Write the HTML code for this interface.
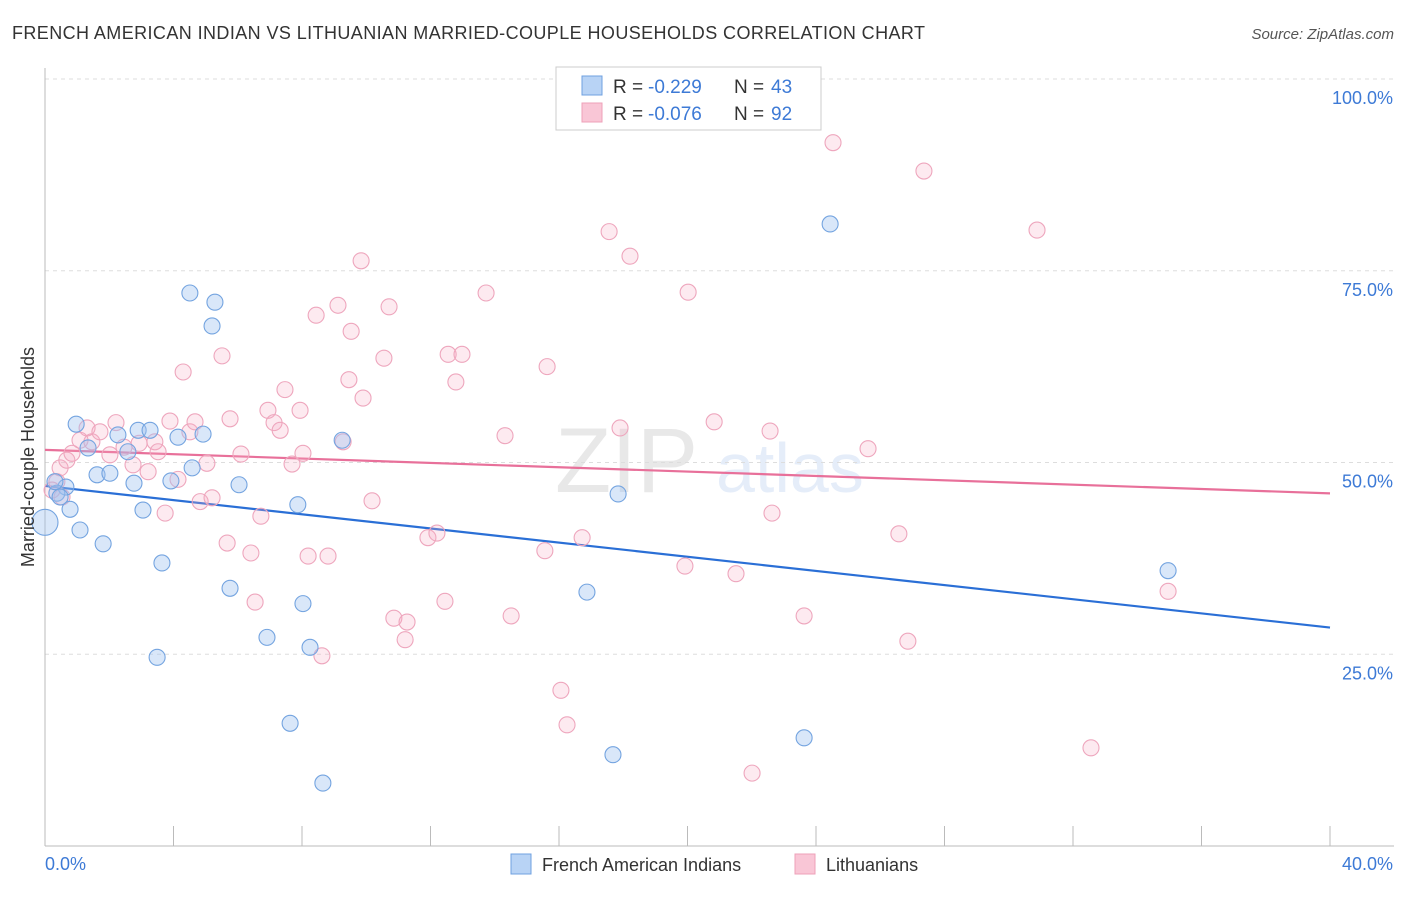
<!DOCTYPE html>
<html><head><meta charset="utf-8"><style>
body{margin:0;background:#fff;font-family:"Liberation Sans",sans-serif;}
svg text{font-family:"Liberation Sans",sans-serif;}
</style></head><body>
<svg id="chart" width="1406" height="892" xmlns="http://www.w3.org/2000/svg">
<text x="12" y="39" font-size="18" fill="#333" textLength="913" lengthAdjust="spacing">FRENCH AMERICAN INDIAN VS LITHUANIAN MARRIED-COUPLE HOUSEHOLDS CORRELATION CHART</text>
<text x="1394" y="39" font-size="15" fill="#555" text-anchor="end" font-style="italic">Source: ZipAtlas.com</text>
<g opacity="0.13"><text x="555" y="492" font-size="92" font-family="Liberation Serif" fill="#555">ZIP</text><text x="716" y="492" font-size="70" fill="#3d7ad6">atlas</text></g>
<g id="grid"></g>
<g id="axes"></g>
<g id="lines"></g>
<g id="pts"></g>
<text transform="translate(34,457) rotate(-90)" font-size="18" fill="#333" text-anchor="middle">Married-couple Households</text>
<g>
<rect x="556" y="67" width="265" height="63" fill="#fff" stroke="#ccc"/>
<rect x="582" y="76" width="20" height="19" fill="#b8d3f5" stroke="#6fa0e0"/>
<rect x="582" y="103" width="20" height="19" fill="#f9c6d6" stroke="#eea0b8"/>
<text x="613" y="93" font-size="19" fill="#333">R =</text><text x="648" y="93" font-size="19" fill="#3d7ad6">-0.229</text>
<text x="734" y="93" font-size="19" fill="#333">N =</text><text x="771" y="93" font-size="19" fill="#3d7ad6">43</text>
<text x="613" y="120" font-size="19" fill="#333">R =</text><text x="648" y="120" font-size="19" fill="#3d7ad6">-0.076</text>
<text x="734" y="120" font-size="19" fill="#333">N =</text><text x="771" y="120" font-size="19" fill="#3d7ad6">92</text>
</g>
<g>
<rect x="511" y="854" width="20" height="20" fill="#b8d3f5" stroke="#6fa0e0"/>
<text x="542" y="871" font-size="18" fill="#333">French American Indians</text>
<rect x="795" y="854" width="20" height="20" fill="#f9c6d6" stroke="#eea0b8"/>
<text x="826" y="871" font-size="18" fill="#333">Lithuanians</text>
</g>
</svg>
<script>
const blueX=[0.97,1.34,1.62,2.02,0.65,0.37,0.78,1.09,1.81,2.27,2.58,2.90,3.27,2.77,3.05,3.64,3.49,4.14,3.92,4.51,4.58,4.92,5.20,5.29,6.04,5.76,6.91,7.63,7.87,8.03,8.25,8.65,9.25,17.84,16.87,17.68,23.63,24.44,34.96,0.0,0.31,0.47];
const blueY=[55.0,51.9,48.4,48.6,46.8,46.0,43.9,41.2,39.4,53.6,51.4,54.2,54.2,47.3,43.8,36.9,24.6,53.3,47.6,72.1,49.3,53.7,67.8,70.9,47.1,33.6,27.2,16.0,44.5,31.6,25.9,8.2,52.9,45.9,33.1,11.9,14.1,81.1,35.9,42.2,47.5,45.5];
const pinkX=[0.37,0.47,0.68,0.84,1.09,1.31,1.46,1.71,2.02,2.21,2.46,2.74,2.93,3.21,3.42,3.52,3.74,3.89,4.14,4.30,4.51,4.67,4.83,5.04,5.20,5.51,5.76,5.67,6.10,6.41,6.54,6.72,6.94,7.13,7.32,7.47,7.69,7.94,8.03,8.19,8.44,8.62,8.81,9.12,9.28,9.46,9.53,9.84,9.90,10.18,10.55,10.71,10.86,11.21,11.27,11.92,12.20,12.45,12.55,12.79,12.98,13.73,14.32,14.51,15.56,15.63,16.06,16.25,16.72,17.56,17.90,18.21,19.92,20.02,20.83,21.51,22.01,22.57,22.63,23.63,24.53,25.62,26.58,26.86,27.36,30.88,32.56,34.96,0.53,0.22];
const pinkY=[47.5,49.3,50.3,51.2,52.9,54.5,52.7,54.0,51.0,55.2,52.0,49.7,52.5,48.8,52.7,51.4,43.4,55.4,47.8,61.8,54.0,55.3,44.9,49.9,45.4,63.9,55.7,39.5,51.1,38.2,31.8,43.0,56.8,55.2,54.2,59.5,49.8,56.8,51.2,37.8,69.2,24.8,37.8,70.5,52.7,60.8,67.1,76.3,58.4,45.0,63.6,70.3,29.7,26.9,29.2,40.2,40.8,31.9,64.1,60.5,64.1,72.1,53.5,30.0,38.5,62.5,20.3,15.8,40.2,80.1,54.5,76.9,36.5,72.2,55.3,35.5,9.5,54.1,43.4,30.0,91.7,51.8,40.7,26.7,88.0,80.3,12.8,33.2,45.5,46.4];
const yTicks=[25,50,75,100];
const yTickLabels=["25.0%","50.0%","75.0%","100.0%"];
const xTickLabels=["0.0%","40.0%"];

const NS="http://www.w3.org/2000/svg";
const X0=45,X1=1330,Y0=846,Y100=79;
const sx=v=>X0+(X1-X0)*v/40;
const sy=v=>Y0-(Y0-Y100)*v/100;
function mk(tag,attrs,parent){const e=document.createElementNS(NS,tag);for(const k in attrs)e.setAttribute(k,attrs[k]);parent.appendChild(e);return e;}
const grid=document.getElementById('grid'),axes=document.getElementById('axes');
yTicks.forEach((t,i)=>{
  const l=mk('line',{x1:X0,x2:1394,y1:sy(t),y2:sy(t),stroke:'#ddd','stroke-dasharray':'4,4'},grid);
  
  
  const tx=mk('text',{x:1393,y:sy(t)+25,'font-size':18,fill:'#3d7ad6','text-anchor':'end'},axes);
  tx.textContent=yTickLabels[i];
  
  
});
const ax=mk('line',{x1:X0,x2:X0,y1:68,y2:Y0,stroke:'#bbb'},axes);


const bx=mk('line',{x1:X0,x2:1394,y1:Y0,y2:Y0,stroke:'#bbb'},axes);


for(let i=0;i<=10;i++){
  const t=mk('line',{x1:sx(i*4),x2:sx(i*4),y1:826,y2:Y0,stroke:'#bbb'},axes);
  
  
}
const xl0=mk('text',{x:45,y:870,'font-size':18,fill:'#3d7ad6'},axes);xl0.textContent=xTickLabels[0];


const xl1=mk('text',{x:1393,y:870,'font-size':18,fill:'#3d7ad6','text-anchor':'end'},axes);xl1.textContent=xTickLabels[1];



const pts=document.getElementById('pts');
function scatter(xs,ys,fill,stroke,name){
  xs.forEach((x,i)=>{
    const big=(name==='point-french'&&x===0);
    const c=mk('circle',{cx:sx(x),cy:sy(ys[i]),r:big?13:8,fill:fill,stroke:stroke,'stroke-width':1.1},pts);
    
    
  });
}
scatter(pinkX,pinkY,'rgba(246,170,196,0.25)','#eea6bd','point-lithuanian');
scatter(blueX,blueY,'rgba(160,196,240,0.4)','#74a4e0','point-french');

function fit(xs,ys){const n=xs.length;let mx=0,my=0;for(let i=0;i<n;i++){mx+=xs[i];my+=ys[i];}mx/=n;my/=n;let sxy=0,sxx=0;for(let i=0;i<n;i++){sxy+=(xs[i]-mx)*(ys[i]-my);sxx+=(xs[i]-mx)**2;}const b=sxy/sxx;return [my-b*mx,b];}
const lines=document.getElementById('lines');
[[blueX,blueY,'#2a6fd6','trend-line-french'],[pinkX,pinkY,'#e8709a','trend-line-lithuanian']].forEach(([xs,ys,col,nm])=>{
  const [a,b]=fit(xs,ys);
  const l=mk('line',{x1:sx(0),y1:sy(a),x2:sx(40),y2:sy(a+b*40),stroke:col,'stroke-width':2.2},lines);
  
  
});
</script>
</body></html>
